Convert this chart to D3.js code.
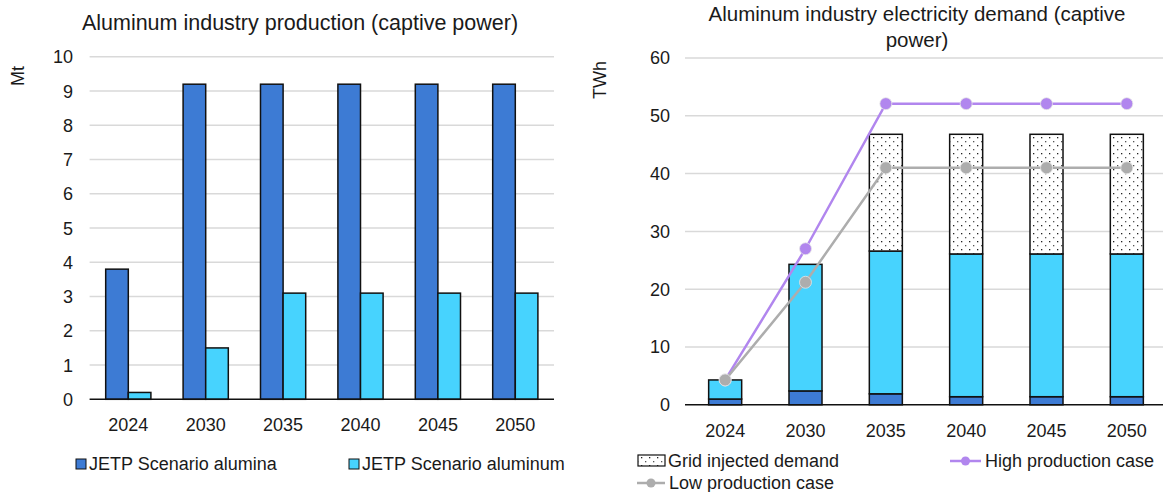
<!DOCTYPE html>
<html>
<head>
<meta charset="utf-8">
<script src="https://cdn.jsdelivr.net/npm/d3@7"></script>
<style>
  html, body { margin: 0; padding: 0; background: #fff; }
  svg { display: block; font-family: "Liberation Sans", Arial, sans-serif; }
</style>
</head>
<body>
<svg id="chart" width="1163" height="492"></svg>
<script>
// ---- Data ----
const years = ["2024", "2030", "2035", "2040", "2045", "2050"];

// Production (Mt)
const aluminaMt  = [3.8, 9.2, 9.2, 9.2, 9.2, 9.2];
const aluminumMt = [0.2, 1.5, 3.1, 3.1, 3.1, 3.1];
const productionTicks = [0, 1, 2, 3, 4, 5, 6, 7, 8, 9, 10];

// Electricity demand (TWh), stacked segments
const refiningTWh      = [1.0, 2.4, 1.9, 1.4, 1.4, 1.4];
const smeltingTWh      = [3.3, 21.9, 24.7, 24.7, 24.7, 24.7];
const gridInjectedTWh  = [0, 0, 20.2, 20.7, 20.7, 20.7];
const highCaseTWh      = [4.3, 27.0, 52.1, 52.1, 52.1, 52.1];
const lowCaseTWh       = [4.3, 21.2, 41.0, 41.0, 41.0, 41.0];
const demandTicks = [0, 10, 20, 30, 40, 50, 60];

// ---- Styles ----
const C_DARK = "#3D7BD4";
const C_CYAN = "#47D3FE";
const C_HIGH = "#B186EE";
const C_LOW  = "#ADADAD";
const C_GRID = "#D9D9D9";
const TXT = "#1a1a1a";
const FS = 18;

const svg = d3.select("#chart");

// dotted fill for grid-injected demand
const defs = svg.append("defs");
const pat = defs.append("pattern")
  .attr("id", "dots").attr("patternUnits", "userSpaceOnUse")
  .attr("width", 8).attr("height", 8);
pat.append("rect").attr("width", 8).attr("height", 8).attr("fill", "#fff");
pat.append("rect").attr("x", 1).attr("y", 1).attr("width", 1.3).attr("height", 1.3).attr("fill", "#222");
pat.append("rect").attr("x", 5).attr("y", 5).attr("width", 1.3).attr("height", 1.3).attr("fill", "#555");

function yAxisGrid(g, y, ticks, x0, x1, labelX) {
  ticks.forEach(t => {
    if (t !== 0) {
      g.append("line").attr("x1", x0).attr("x2", x1)
        .attr("y1", y(t)).attr("y2", y(t))
        .attr("stroke", C_GRID).attr("stroke-width", 1.5);
    }
    g.append("text").attr("x", labelX).attr("y", y(t)).attr("dy", "0.36em")
      .attr("text-anchor", "end").attr("font-size", FS).attr("fill", TXT).text(t);
  });
}

// ================= Left: production =================
{
  const g = svg.append("g");
  const x0 = d3.scaleBand().domain(years).range([89.6, 554]).paddingInner(0.416).paddingOuter(0.208);
  const x1 = d3.scaleBand().domain(["alumina", "aluminum"]).range([0, x0.bandwidth()]);
  const y = d3.scaleLinear().domain([0, 10]).range([399.3, 56.8]);

  yAxisGrid(g, y, productionTicks, 89.6, 554, 73);

  const series = [
    { key: "alumina", vals: aluminaMt, color: C_DARK },
    { key: "aluminum", vals: aluminumMt, color: C_CYAN }
  ];
  series.forEach(s => {
    g.selectAll(null).data(years).join("rect")
      .attr("x", d => x0(d) + x1(s.key))
      .attr("y", (d, i) => y(s.vals[i]))
      .attr("width", x1.bandwidth())
      .attr("height", (d, i) => y(0) - y(s.vals[i]))
      .attr("fill", s.color).attr("stroke", "#111").attr("stroke-width", 1.5);
  });

  g.append("line").attr("x1", 89.6).attr("x2", 554).attr("y1", y(0)).attr("y2", y(0))
    .attr("stroke", "#111").attr("stroke-width", 1.5);

  g.selectAll(null).data(years).join("text")
    .attr("x", d => x0(d) + x0.bandwidth() / 2).attr("y", 431)
    .attr("text-anchor", "middle").attr("font-size", FS).attr("fill", TXT).text(d => d);

  g.append("text").attr("transform", "translate(24,76) rotate(-90)")
    .attr("text-anchor", "middle").attr("font-size", FS).attr("fill", TXT).text("Mt");

  g.append("text").attr("x", 300).attr("y", 30).attr("text-anchor", "middle")
    .attr("font-size", 21.5).attr("fill", TXT).text("Aluminum industry production (captive power)");

  // legend
  const leg = [
    { label: "JETP Scenario alumina", color: C_DARK, x: 76 },
    { label: "JETP Scenario aluminum", color: C_CYAN, x: 349 }
  ];
  leg.forEach(l => {
    g.append("rect").attr("x", l.x).attr("y", 459).attr("width", 10).attr("height", 10)
      .attr("fill", l.color).attr("stroke", "#111").attr("stroke-width", 1);
    g.append("text").attr("x", l.x + 13).attr("y", 464).attr("dy", "0.36em")
      .attr("font-size", FS).attr("fill", TXT).text(l.label);
  });
}

// ================= Right: electricity demand =================
{
  const g = svg.append("g");
  const x = d3.scaleBand().domain(years).range([685, 1167]).paddingInner(0.589).paddingOuter(0.2945);
  const y = d3.scaleLinear().domain([0, 60]).range([404.8, 58]);

  yAxisGrid(g, y, demandTicks, 685, 1167, 670);

  const rows = years.map((yr, i) => ({
    year: yr, refining: refiningTWh[i], smelting: smeltingTWh[i], grid: gridInjectedTWh[i]
  }));
  const stack = d3.stack().keys(["refining", "smelting", "grid"])(rows);
  const fills = { refining: C_DARK, smelting: C_CYAN, grid: "url(#dots)" };

  stack.forEach(layer => {
    g.selectAll(null).data(layer.filter(d => d[1] - d[0] > 0)).join("rect")
      .attr("x", d => x(d.data.year))
      .attr("y", d => y(d[1]))
      .attr("width", x.bandwidth())
      .attr("height", d => y(d[0]) - y(d[1]))
      .attr("fill", fills[layer.key]).attr("stroke", "#111").attr("stroke-width", 1.5);
  });

  g.append("line").attr("x1", 685).attr("x2", 1167).attr("y1", y(0)).attr("y2", y(0))
    .attr("stroke", "#111").attr("stroke-width", 1.5);

  const cx = d => x(d) + x.bandwidth() / 2;
  const line = d3.line().x((d, i) => cx(years[i])).y(d => y(d));

  [{ vals: highCaseTWh, color: C_HIGH }, { vals: lowCaseTWh, color: C_LOW }].forEach(s => {
    g.append("path").attr("d", line(s.vals)).attr("fill", "none")
      .attr("stroke", s.color).attr("stroke-width", 2.5);
    g.selectAll(null).data(s.vals).join("circle")
      .attr("cx", (d, i) => cx(years[i])).attr("cy", d => y(d)).attr("r", 6)
      .attr("fill", s.color).attr("stroke", "#e6e6e6").attr("stroke-width", 0.8);
  });

  g.selectAll(null).data(years).join("text")
    .attr("x", d => cx(d)).attr("y", 437)
    .attr("text-anchor", "middle").attr("font-size", FS).attr("fill", TXT).text(d => d);

  g.append("text").attr("transform", "translate(606,80) rotate(-90)")
    .attr("text-anchor", "middle").attr("font-size", FS).attr("fill", TXT).text("TWh");

  const title = g.append("text").attr("text-anchor", "middle").attr("font-size", 20.5).attr("fill", TXT);
  title.append("tspan").attr("x", 917).attr("y", 21).text("Aluminum industry electricity demand (captive");
  title.append("tspan").attr("x", 917).attr("y", 47).text("power)");

  // legend
  g.append("rect").attr("x", 638).attr("y", 455).attr("width", 27).attr("height", 11)
    .attr("fill", "url(#dots)").attr("stroke", "#111").attr("stroke-width", 1.2);
  g.append("text").attr("x", 668).attr("y", 461).attr("dy", "0.36em")
    .attr("font-size", FS).attr("fill", TXT).text("Grid injected demand");

  const lineLeg = [
    { label: "High production case", color: C_HIGH, x: 950, y: 461, len: 31 },
    { label: "Low production case", color: C_LOW, x: 637, y: 483, len: 28 }
  ];
  lineLeg.forEach(l => {
    g.append("line").attr("x1", l.x).attr("x2", l.x + l.len).attr("y1", l.y).attr("y2", l.y)
      .attr("stroke", l.color).attr("stroke-width", 2.5);
    g.append("circle").attr("cx", l.x + l.len / 2).attr("cy", l.y).attr("r", 4.5).attr("fill", l.color);
    g.append("text").attr("x", l.x + l.len + 4).attr("y", l.y).attr("dy", "0.36em")
      .attr("font-size", FS).attr("fill", TXT).text(l.label);
  });
}
</script>
</body>
</html>
